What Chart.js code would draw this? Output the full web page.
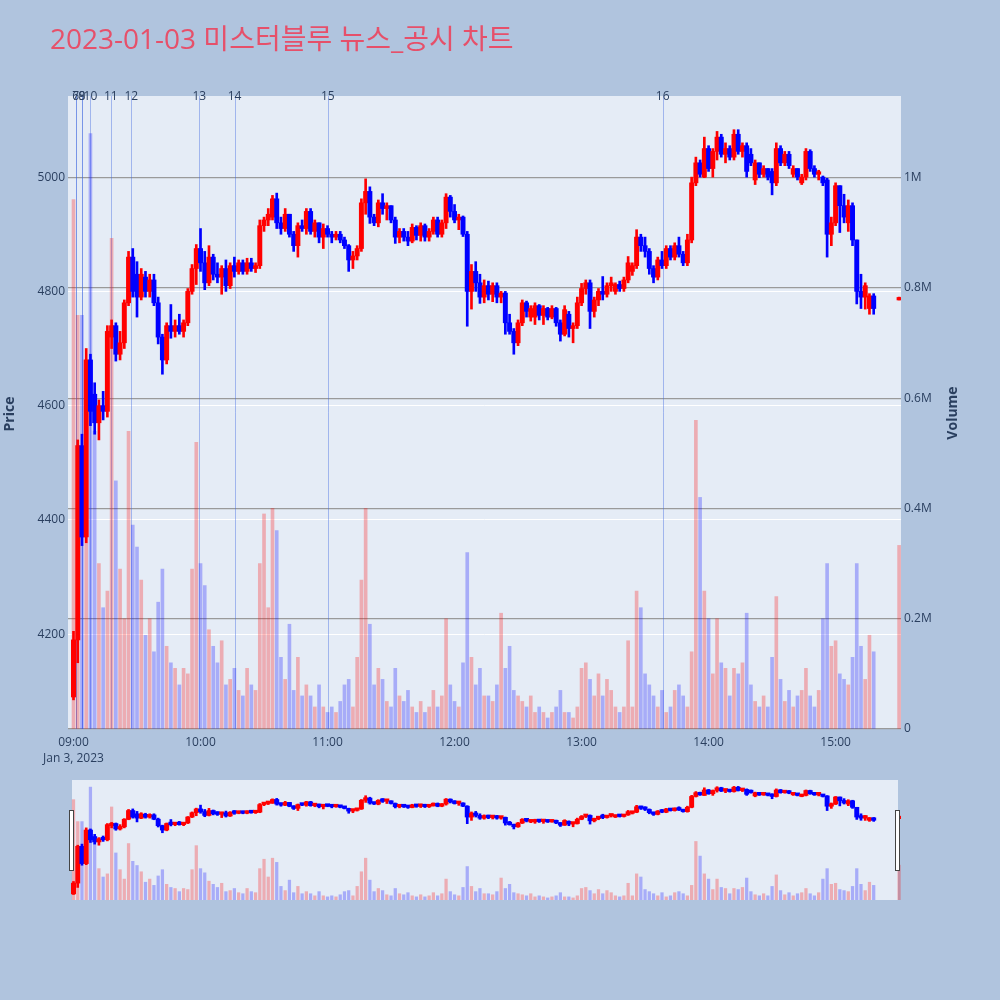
<!DOCTYPE html>
<html><head><meta charset="utf-8">
<script src="https://cdn.jsdelivr.net/npm/chart.js@4.4.0/dist/chart.umd.min.js"></script>
<style>
html,body{margin:0;padding:0;background:#b0c4de;}
#wrap{position:relative;width:1000px;height:1000px;}
#main{position:absolute;left:0;top:0;}
#slider{position:absolute;left:68px;top:780px;}
</style></head><body>
<div id="wrap"><canvas id="main" width="1000" height="1000"></canvas><canvas id="slider" width="833" height="120"></canvas></div>
<script>
// minutes after 09:00
const times = [0,2,4,6,8,10,12,14,16,18,20,22,24,26,28,30,32,34,36,38,40,42,44,46,48,50,52,54,56,58,60,62,64,66,68,70,72,74,76,78,80,82,84,86,88,90,92,94,96,98,100,102,104,106,108,110,112,114,116,118,120,122,124,126,128,130,132,134,136,138,140,142,144,146,148,150,152,154,156,158,160,162,164,166,168,170,172,174,176,178,180,182,184,186,188,190,192,194,196,198,200,202,204,206,208,210,212,214,216,218,220,222,224,226,228,230,232,234,236,238,240,242,244,246,248,250,252,254,256,258,260,262,264,266,268,270,272,274,276,278,280,282,284,286,288,290,292,294,296,298,300,302,304,306,308,310,312,314,316,318,320,322,324,326,328,330,332,334,336,338,340,342,344,346,348,350,352,354,356,358,360,362,364,366,368,370,372,374,376,378,390];
const opens = [
4090,4190,4530,4370,4680,4620,4570,4600,4590,4720,
4740,4690,4710,4780,4860,4830,4790,4825,4800,4820,
4780,4720,4680,4740,4730,4740,4730,4745,4800,4840,
4875,4850,4815,4860,4830,4825,4840,4810,4845,4835,
4850,4835,4850,4840,4845,4915,4925,4930,4962,4920,
4910,4935,4900,4880,4915,4910,4940,4905,4920,4895,
4910,4900,4895,4900,4890,4880,4855,4862,4875,4955,
4975,4930,4920,4955,4945,4950,4925,4895,4905,4895,
4888,4912,4898,4915,4895,4905,4925,4900,4920,4965,
4940,4925,4930,4900,4800,4835,4815,4790,4810,4795,
4810,4790,4797,4745,4730,4710,4745,4780,4755,4755,
4775,4758,4770,4755,4770,4745,4725,4760,4735,4740,
4780,4805,4815,4765,4785,4800,4795,4810,4800,4812,
4805,4820,4835,4845,4895,4880,4870,4840,4825,4855,
4845,4875,4860,4880,4865,4850,4890,4990,5025,5000,
5050,5015,5045,5070,5040,5050,5035,5075,5045,5055,
5040,4995,5025,5005,5015,5010,4990,5050,5025,5040,
5005,5015,4990,5000,5045,5015,5005,5000,4995,4900,
4920,4985,4950,4920,4950,4890,4800,4790,4770,4792,
4785];
const highs = [
4205,4540,4550,4700,4690,4640,4610,4625,4740,4750,
4745,4730,4785,4870,4875,4852,4840,4835,4830,4830,
4790,4725,4745,4777,4750,4760,4750,4805,4847,4882,
4910,4870,4880,4865,4850,4845,4855,4850,4860,4855,
4855,4858,4858,4850,4925,4930,4945,4968,4972,4930,
4945,4935,4905,4920,4925,4945,4945,4925,4920,4918,
4915,4905,4905,4905,4895,4882,4870,4880,4962,4997,
4983,4935,4960,4971,4955,4950,4930,4910,4910,4905,
4918,4915,4920,4918,4910,4930,4930,4925,4971,4968,
4952,4935,4932,4905,4847,4852,4830,4820,4818,4815,
4815,4800,4800,4760,4735,4750,4785,4783,4775,4780,
4777,4775,4772,4775,4772,4750,4775,4765,4745,4790,
4814,4820,4820,4790,4805,4826,4815,4825,4815,4818,
4825,4861,4850,4908,4900,4895,4875,4845,4860,4870,
4880,4880,4885,4895,4870,4900,5000,5035,5030,5070,
5055,5050,5080,5075,5060,5055,5083,5083,5060,5060,
5050,5030,5025,5020,5015,5015,5060,5055,5045,5045,
5020,5015,5005,5050,5048,5020,5012,5002,4998,4930,
4990,4985,4970,4960,4955,4890,4830,4815,4796,4796,
4790];
const lows = [
4085,4150,4355,4360,4565,4550,4540,4575,4580,4700,
4678,4680,4700,4775,4790,4755,4785,4790,4790,4775,
4708,4655,4673,4718,4720,4725,4720,4740,4795,4812,
4835,4803,4810,4820,4815,4795,4800,4805,4825,4830,
4830,4830,4835,4833,4840,4905,4915,4925,4910,4900,
4905,4895,4870,4860,4905,4900,4900,4895,4885,4875,
4895,4885,4890,4885,4875,4835,4840,4855,4870,4935,
4919,4915,4913,4935,4925,4920,4884,4885,4888,4880,
4885,4890,4888,4888,4888,4900,4895,4895,4910,4930,
4920,4908,4896,4739,4769,4800,4779,4780,4785,4782,
4780,4780,4725,4725,4690,4705,4740,4755,4748,4742,
4750,4742,4750,4752,4739,4713,4722,4720,4710,4735,
4775,4795,4735,4755,4775,4785,4790,4800,4795,4800,
4800,4815,4828,4840,4870,4860,4830,4815,4820,4840,
4840,4855,4855,4860,4845,4845,4885,4985,5000,4999,
5010,5000,5030,5035,5025,5030,5030,5040,5035,5000,
5020,4987,4999,5000,4995,4969,4985,5020,5020,5015,
5000,4995,4987,4995,5010,5000,4995,4985,4860,4880,
4915,4903,4920,4905,4880,4778,4770,4769,4760,4760,
4785];
const closes = [
4190,4530,4370,4680,4590,4570,4600,4590,4730,4740,
4690,4710,4780,4860,4800,4790,4830,4800,4820,4780,
4720,4680,4740,4730,4740,4730,4745,4800,4840,4875,
4850,4815,4860,4830,4825,4840,4810,4845,4835,4850,
4835,4850,4840,4845,4915,4925,4935,4962,4920,4910,
4935,4900,4880,4915,4910,4940,4905,4920,4895,4910,
4900,4895,4900,4890,4880,4855,4862,4875,4955,4975,
4930,4920,4955,4945,4950,4925,4895,4905,4895,4888,
4912,4898,4915,4895,4905,4925,4900,4920,4965,4940,
4925,4930,4900,4800,4835,4815,4790,4810,4795,4810,
4790,4797,4745,4730,4710,4745,4780,4765,4770,4775,
4758,4770,4755,4770,4745,4725,4768,4735,4740,4780,
4805,4815,4765,4785,4800,4795,4810,4815,4812,4805,
4820,4850,4845,4895,4880,4870,4840,4825,4855,4845,
4875,4860,4880,4865,4850,4890,4990,5025,5005,5050,
5015,5045,5070,5040,5050,5035,5075,5045,5055,5010,
5025,5025,5005,5015,5000,4990,5050,5025,5040,5020,
5015,5000,5000,5045,5015,5005,5008,4990,4900,4920,
4985,4950,4930,4950,4890,4800,4790,4810,4792,4770,
4788];
// volume in thousands of shares
const volumesK = [
960,750,750,480,1080,540,300,220,250,890,
450,290,200,540,370,330,270,170,200,140,
230,290,150,120,110,80,110,100,290,520,
300,260,180,150,120,160,80,90,110,70,
60,110,80,70,300,390,220,400,360,130,
90,190,70,130,60,80,60,40,80,40,
30,40,30,50,80,90,40,130,270,400,
190,80,110,90,50,40,110,60,50,70,
40,30,50,30,40,70,40,60,200,80,
50,40,120,320,130,80,110,60,60,50,
80,210,110,150,70,60,50,40,60,30,
40,30,20,30,40,70,30,30,20,40,
110,120,90,60,100,60,90,70,40,30,
40,160,40,250,220,100,80,60,40,70,
30,40,70,80,60,40,140,560,420,250,
200,100,200,120,110,60,110,100,120,210,
80,50,40,60,40,130,240,90,50,70,
40,60,70,110,60,40,70,200,300,150,
160,100,90,80,130,300,150,90,170,140,
333];
const newsTimes  = [1, 1, 4, 4, 8, 17.6, 27.3, 59.4, 76.1, 120.1, 278.3];
const newsLabels = ['6','7','8','9','10','11','12','13','14','15','16'];
const xTickValues = [0,60,120,180,240,300,360];
const xTickLabels = ['09:00','10:00','11:00','12:00','13:00','14:00','15:00'];
const xDateLabel = 'Jan 3, 2023';
const priceTicks = [4200,4400,4600,4800,5000];
const volTicks = [0,200,400,600,800,1000];
const volTickLabels = ['0','0.2M','0.4M','0.6M','0.8M','1M'];
const titleText = '2023-01-03 미스터블루 뉴스_공시 차트';

const X_MIN = -2.6, X_MAX = 390.9, P_MIN = 4034, P_MAX = 5142, V_MAX = 1148;
const FONT = '"Open Sans", "Noto Sans CJK KR", sans-serif';
const TXT = '#2a3f5f';

const isUp = times.map((t,i) => closes[i] >= opens[i]);
const candleColors = isUp.map(u => u ? '#ff0000' : '#0000ff');
const volColors = isUp.map(u => u ? 'rgba(255,0,0,0.27)' : 'rgba(0,0,255,0.27)');

function makeDatasets(bodyW, wickW, volW, minLen){
  return [
    {label:'body', data: times.map((t,i)=>({x:t, y:[opens[i], closes[i]]})), backgroundColor: candleColors,
     barThickness: bodyW, minBarLength: minLen, grouped:false, yAxisID:'y', order:1},
    {label:'wick', data: times.map((t,i)=>({x:t, y:[lows[i], highs[i]]})), backgroundColor: candleColors,
     barThickness: wickW, grouped:false, yAxisID:'y', order:2},
    {label:'volume', data: times.map((t,i)=>({x:t, y:volumesK[i]})), backgroundColor: volColors,
     barThickness: volW, grouped:false, yAxisID:'yv', order:3}
  ];
}

const bgPlugin = {
  id:'bgfill',
  beforeDraw(chart, args, opts){
    const {ctx, chartArea:a} = chart;
    ctx.save(); ctx.fillStyle = '#e5ecf6';
    const l = opts.left != null ? opts.left : a.left;
    const r = opts.right != null ? opts.right : a.right;
    ctx.fillRect(l, a.top, r - l, a.bottom - a.top);
    ctx.restore();
  }
};

const newsPlugin = {
  id:'news',
  beforeDatasetsDraw(chart){
    const {ctx, chartArea:a, scales} = chart;
    ctx.save();
    ctx.strokeStyle = 'rgba(65,105,225,0.42)'; ctx.lineWidth = 1;
    newsTimes.forEach(t => {
      const x = Math.round(scales.x.getPixelForValue(t)) + 0.5;
      ctx.beginPath(); ctx.moveTo(x, a.top); ctx.lineTo(x, a.bottom); ctx.stroke();
    });
    ctx.restore();
  },
  afterDatasetsDraw(chart){
    const {ctx, chartArea:a, scales} = chart;
    ctx.save();
    ctx.fillStyle = TXT; ctx.font = '12px ' + FONT; ctx.textAlign = 'center'; ctx.textBaseline = 'middle';
    newsTimes.forEach((t,i) => {
      ctx.fillText(newsLabels[i], scales.x.getPixelForValue(t), a.top + 1);
    });
    ctx.restore();
  }
};

const textPlugin = {
  id:'texts',
  afterDraw(chart){
    const {ctx} = chart;
    ctx.save();
    ctx.fillStyle = '#e6506a'; ctx.font = '28px ' + FONT; ctx.textAlign = 'left'; ctx.textBaseline = 'middle';
    ctx.fillText(titleText, 50, 41);
    ctx.fillStyle = TXT; ctx.font = 'bold 14px ' + FONT; ctx.textAlign = 'center';
    ctx.save(); ctx.translate(10, 414); ctx.rotate(-Math.PI/2); ctx.fillText('Price', 0, 0); ctx.restore();
    ctx.save(); ctx.translate(953, 413); ctx.rotate(-Math.PI/2); ctx.fillText('Volume', 0, 0); ctx.restore();
    ctx.restore();
  }
};

const tickFont = {family: FONT, size: 12};

new Chart(document.getElementById('main'), {
  type:'bar',
  data:{ datasets: makeDatasets(4.3, 2, 3, 2.5) },
  options:{
    responsive:false, animation:false, devicePixelRatio:1, events:[],
    layout:{ padding:{ top:96, left:0, right:0, bottom:0 } },
    plugins:{ legend:{display:false}, tooltip:{enabled:false}, title:{display:false}, bgfill:{} },
    scales:{
      x:{ type:'linear', min:X_MIN, max:X_MAX, offset:false,
          grid:{display:false, offset:false, drawTicks:false}, border:{display:false},
          afterBuildTicks: s => { s.ticks = xTickValues.map(v => ({value:v})); },
          ticks:{ autoSkip:false, maxRotation:0, padding:5, color:TXT,
                  font:{family:FONT, size:12, lineHeight:1.35},
                  callback:(v) => { const i = xTickValues.indexOf(v); return i === 0 ? [xTickLabels[0], xDateLabel] : xTickLabels[i]; } },
          afterFit: s => { s.height = 271; } },
      y:{ type:'linear', position:'left', min:P_MIN, max:P_MAX, beginAtZero:false,
          grid:{color:'#ffffff', lineWidth:1, drawTicks:false}, border:{display:false},
          afterBuildTicks: s => { s.ticks = priceTicks.map(v => ({value:v})); },
          ticks:{ padding:3, color:TXT, font:tickFont, callback:v => String(v) },
          afterFit: s => { s.width = 68; } },
      yv:{ type:'linear', axis:'y', position:'right', min:0, max:V_MAX, beginAtZero:true,
          grid:{color:'#9a9a9a', lineWidth:1.2, drawTicks:false}, border:{display:false},
          afterBuildTicks: s => { s.ticks = volTicks.map(v => ({value:v})); },
          ticks:{ padding:3, color:TXT, font:tickFont, callback:v => volTickLabels[volTicks.indexOf(v)] },
          afterFit: s => { s.width = 99; } }
    }
  },
  plugins:[bgPlugin, newsPlugin, textPlugin]
});

const handlePlugin = {
  id:'handles',
  afterDraw(chart){
    const {ctx} = chart;
    ctx.save();
    ctx.fillStyle = '#ffffff'; ctx.strokeStyle = '#444'; ctx.lineWidth = 1;
    [[1.5, 30.5], [827.5, 30.5]].forEach(([x,y]) => { ctx.fillRect(x, y, 4, 60); ctx.strokeRect(x, y, 4, 60); });
    ctx.restore();
  }
};

new Chart(document.getElementById('slider'), {
  type:'bar',
  data:{ datasets: makeDatasets(4.3, 2, 2.6, 2.5) },
  options:{
    responsive:false, animation:false, devicePixelRatio:1, events:[],
    layout:{ padding:0 },
    plugins:{ legend:{display:false}, tooltip:{enabled:false}, bgfill:{left:4, right:830} },
    scales:{
      x:{ type:'linear', display:false, min:X_MIN, max:X_MAX, offset:false, grid:{offset:false} },
      y:{ type:'linear', display:false, min:P_MIN, max:P_MAX, beginAtZero:false },
      yv:{ type:'linear', axis:'y', display:false, min:0, max:V_MAX }
    }
  },
  plugins:[bgPlugin, handlePlugin]
});
</script>
</body></html>
